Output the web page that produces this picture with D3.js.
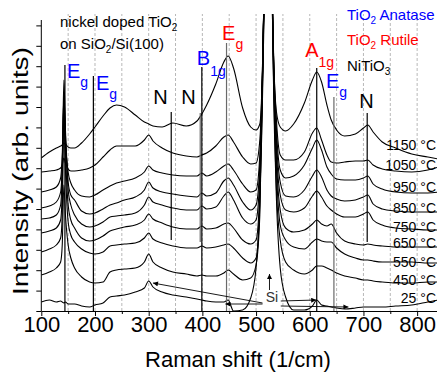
<!DOCTYPE html>
<html>
<head>
<meta charset="utf-8">
<script src="https://cdn.jsdelivr.net/npm/d3@7"></script>
<style>
body { margin: 0; background: #fff; }
svg { display: block; font-family: Arial, "Liberation Sans", sans-serif; }
</style>
</head>
<body>
<svg id="chart" width="437" height="373"></svg>
<script>
/*
 * Data: Raman shift grid (1/cm) and offset intensities (arb. units)
 */
var shift = [100, 115, 128, 136, 139, 142, 145, 150, 155, 162,
             175, 190, 200, 215, 228, 240, 255, 275, 292, 300,
             308, 325, 345, 370, 390, 399, 408, 425, 440, 448,
             458, 475, 490, 500, 507, 513, 518, 522, 527, 532,
             538, 545, 555, 570, 590, 605, 613, 622, 632, 640,
             650, 665, 685, 700, 708, 718, 735, 760, 790, 820, 840];

var s1150 = [153, 159, 163, 165, 166, 168, 167, 164, 163, 163,
             168, 177, 184, 195, 203, 206, 204, 196, 189, 187,
             185, 184, 188, 185, 190, 197, 206, 227, 249, 255,
             243, 203, 184, 181, 187, 271, 461, 1011, 461, 271,
             199, 184, 180, 187, 208, 231, 239, 229, 206, 191,
             181, 175, 177, 183, 186, 179, 169, 163, 157, 154, 152];

var s1050 = [139, 140, 141, 143, 146, 153, 148, 142, 140, 140,
             141, 143, 146, 154, 161, 165, 165, 165, 171, 176,
             170, 163, 158, 155, 154, 156, 158, 165, 174, 176,
             169, 154, 147, 148, 171, 269, 461, 1011, 461, 269,
             191, 156, 151, 151, 159, 178, 183, 171, 156, 149,
             148, 149, 150, 150, 151, 146, 142, 140, 139, 141, 144];

var s950 = [119, 121, 124, 133, 156, 206, 171, 139, 128, 121,
            115, 114, 116, 121, 125, 128, 130, 133, 139, 145,
            141, 138, 136, 135, 135, 138, 135, 139, 145, 147,
            141, 127, 119, 121, 156, 266, 461, 1011, 461, 266,
            181, 141, 133, 135, 146, 163, 171, 161, 144, 137,
            132, 131, 131, 133, 135, 127, 122, 119, 118, 118, 119];

var s850 = [103, 105, 109, 119, 146, 216, 176, 129, 116, 111,
            100, 97, 98, 102, 106, 108, 111, 114, 121, 129,
            123, 119, 117, 115, 114, 118, 115, 118, 130, 133,
            126, 109, 101, 106, 146, 266, 461, 1011, 461, 266,
            171, 129, 115, 114, 121, 135, 141, 134, 121, 115,
            112, 110, 111, 114, 116, 107, 102, 100, 99, 99, 99];

var s750 = [92, 93, 96, 106, 141, 231, 181, 121, 106, 96,
            87, 84, 85, 89, 94, 95, 96, 98, 106, 114,
            109, 106, 103, 101, 101, 105, 102, 104, 115, 119,
            111, 93, 87, 91, 136, 263, 461, 1011, 461, 263,
            161, 116, 101, 99, 103, 115, 120, 114, 105, 101,
            97, 94, 94, 97, 99, 91, 86, 83, 82, 81, 81];

var s650 = [78, 80, 83, 91, 121, 219, 161, 106, 91, 83,
            73, 70, 71, 75, 80, 82, 84, 86, 91, 97,
            92, 88, 84, 82, 82, 85, 82, 83, 87, 88,
            83, 71, 67, 71, 121, 261, 461, 1011, 461, 261,
            151, 101, 83, 79, 81, 87, 91, 87, 85, 87,
            78, 70, 67, 66, 67, 66, 65, 64, 64, 64, 64];

var s550 = [59, 62, 66, 73, 96, 196, 141, 89, 76, 69,
            62, 58, 57, 59, 65, 66, 67, 68, 73, 78,
            72, 68, 65, 63, 63, 65, 63, 64, 66, 67,
            63, 53, 48, 53, 106, 256, 461, 1011, 461, 256,
            141, 86, 71, 64, 62, 69, 72, 70, 69, 69,
            63, 57, 53, 51, 51, 50, 49, 49, 49, 48, 48];

var s450 = [36, 39, 43, 49, 66, 126, 96, 66, 53, 43,
            34, 29, 28, 29, 39, 41, 42, 43, 49, 57,
            49, 43, 39, 37, 35, 36, 35, 35, 38, 41,
            37, 31, 33, 46, 96, 251, 461, 1011, 461, 251,
            121, 71, 49, 41, 37, 41, 45, 45, 43, 41,
            38, 35, 33, 31, 31, 30, 29, 28, 28, 29, 29];

var s25 = [9, 11, 9, 10, 9, 8, 9, 7, 7, 7,
           5, 4, 6, 8, 14, 15, 16, 19, 23, 30,
           24, 19, 16, 14, 12, 11, 10, 9, 9, 11,
           0, 1, 13, 43, 111, 241, 461, 1011, 461, 241,
           111, 43, 14, 1, 1, 5, 11, 6, 5, 4,
           3, 2, 3, 4, 4, 4, 4, 5, 6, 9, 11];

var temps = ['1150 \u00b0C', '1050 \u00b0C', '950 \u00b0C', '850 \u00b0C', '750 \u00b0C',
             '650 \u00b0C', '550 \u00b0C', '450 \u00b0C', '25 \u00b0C'];
var tempLevel = [161, 141, 119, 98, 79, 63, 44, 26, 8];

/*
 * Peak assignments (vertical markers)
 */
var peakShift  = [144, 197, 342, 396, 399, 445, 613, 645, 707];
var peakName   = [['E', 'g'], ['E', 'g'], ['N'], ['N'], ['B', '1g'], ['E', 'g'], ['A', '1g'], ['E', 'g'], ['N']];
var peakPhase  = ['anatase', 'anatase', 'nitio3', 'nitio3', 'anatase', 'rutile', 'rutile', 'anatase', 'nitio3'];
var peakTop    = [246, 235, 199, 198, 244, 268, 243, 214, 198];
var peakBottom = [0, 0, 71, 69, 0, 0, 0, 0, 69];

/*
 * Si annotation arrows: [shift, intensity] pairs
 */
var siFrom = [[512, 8], [512, 7], [546, 10], [546, 5], [525, 21]];
var siTo   = [[308, 28], [443, 7], [612, 11], [672, 4], [525, 37]];

var xTicks = [100, 200, 300, 400, 500, 600, 700, 800];

/*
 * Style
 */
var BLUE = '#0000ff', RED = '#ff0000', GRAY = '#6a6a6a';
var PHASE_COLOR = { anatase: BLUE, rutile: RED, nitio3: '#000' };
var LINE_COLOR = ['#000', '#000', '#000', GRAY, '#000', GRAY, '#000', GRAY, '#000'];
// text offset from the top of each marker line: [dx, dy, sub dy]
var LABEL_POS = [[2, 13, 9], [2.6, 14, 9], [-18, -8, 0], [-19, -9, 0], [-5, -2, 11],
                 [-4.5, -3, 9], [-11.6, -11, 10], [-8, -9, 9], [-8, -5, 0]];

var svg = d3.select('#chart');
var W = 437;

var x = d3.scaleLinear().domain([100, 837]).range([41.3, 437]);
var y = d3.scaleLinear().domain([0, 297]).range([311, 14]);

var defs = svg.append('defs');
defs.append('clipPath').attr('id', 'plot-clip')
    .append('rect')
    .attr('x', x(100)).attr('y', y(297))
    .attr('width', W - x(100)).attr('height', y(-5) - y(297));

defs.append('marker')
    .attr('id', 'arrow')
    .attr('viewBox', '0 0 10 10')
    .attr('refX', 10).attr('refY', 5)
    .attr('markerWidth', 7).attr('markerHeight', 5)
    .attr('markerUnits', 'userSpaceOnUse')
    .attr('orient', 'auto')
    .append('path').attr('d', 'M0,0L10,5L0,10Z').attr('fill', '#000');

function richText(g, px, py, parts, size, subSize, subDy, color) {
    var t = g.append('text')
        .attr('x', px).attr('y', py)
        .attr('font-size', size)
        .attr('fill', color);
    parts.forEach(function (p, i) {
        var s = t.append('tspan').text(p);
        if (i % 2 === 1) s.attr('font-size', subSize).attr('dy', subDy);
        else if (i > 0) s.attr('dy', -subDy);
    });
    return t;
}

/*
 * Dashed grid
 */
svg.append('g').selectAll('line')
    .data(d3.range(150, 837, 50))
    .join('line')
    .attr('x1', function (d) { return x(d); })
    .attr('x2', function (d) { return x(d); })
    .attr('y1', y(0)).attr('y2', y(297))
    .attr('stroke', '#b8b8b8')
    .attr('stroke-dasharray', '3,2');

/*
 * Spectra
 */
var series = [s1150, s1050, s950, s850, s750, s650, s550, s450, s25];
var line = d3.line()
    .x(function (d, i) { return x(shift[i]); })
    .y(function (d) { return y(d); })
    .curve(d3.curveMonotoneX);

svg.append('g').attr('clip-path', 'url(#plot-clip)')
    .selectAll('path')
    .data(series)
    .join('path')
    .attr('d', line)
    .attr('fill', 'none')
    .attr('stroke', '#000')
    .attr('stroke-width', 1.1);

/*
 * Peak markers
 */
var gPeaks = svg.append('g');
peakShift.forEach(function (s, i) {
    gPeaks.append('line')
        .attr('x1', x(s)).attr('x2', x(s))
        .attr('y1', y(peakTop[i])).attr('y2', y(peakBottom[i]))
        .attr('stroke', LINE_COLOR[i])
        .attr('stroke-width', 1.2);
    var lp = LABEL_POS[i];
    richText(gPeaks, x(s) + lp[0], y(peakTop[i]) + lp[1], peakName[i], 20, 14, lp[2], PHASE_COLOR[peakPhase[i]]);
});

/*
 * Si arrows
 */
var gSi = svg.append('g');
siFrom.forEach(function (f, i) {
    gSi.append('line')
        .attr('x1', x(f[0])).attr('y1', y(f[1]))
        .attr('x2', x(siTo[i][0])).attr('y2', y(siTo[i][1]))
        .attr('stroke', '#000').attr('stroke-width', 0.9)
        .attr('marker-end', 'url(#arrow)');
});
gSi.append('text')
    .attr('x', x(518)).attr('y', y(9))
    .attr('font-size', 14).attr('fill', '#333')
    .text('Si');

/*
 * Temperature labels
 */
svg.append('g').selectAll('text')
    .data(temps)
    .join('text')
    .attr('x', 436)
    .attr('y', function (d, i) { return y(tempLevel[i]); })
    .attr('text-anchor', 'end')
    .attr('font-size', 14)
    .attr('fill', '#000')
    .text(function (d) { return d; });

/*
 * Axes
 */
var gx = svg.append('g')
    .attr('transform', 'translate(0,' + y(0) + ')')
    .call(d3.axisBottom(x).tickValues(xTicks).tickSize(5).tickSizeOuter(0).tickPadding(0));
gx.attr('font-size', 22).attr('font-family', null);
gx.selectAll('text').attr('fill', '#000');

var gxMinor = svg.append('g')
    .attr('transform', 'translate(0,' + y(0) + ')')
    .call(d3.axisBottom(x).tickValues(d3.range(150, 837, 100)).tickSize(3).tickFormat(''));
gxMinor.select('.domain').remove();

var gy = svg.append('g')
    .attr('transform', 'translate(' + x(100) + ',0)')
    .call(d3.axisLeft(y).tickValues(d3.range(0, 290, 20.4)).tickSize(5).tickFormat(''));
gy.select('.domain').remove();
gy.append('line')
    .attr('x1', 0).attr('x2', 0)
    .attr('y1', y(0)).attr('y2', y(291))
    .attr('stroke', '#000');

svg.selectAll('.tick line').attr('stroke', '#000');
svg.selectAll('.domain').attr('stroke', '#000');

/*
 * Titles
 */
svg.append('text')
    .attr('x', 238).attr('y', 367)
    .attr('text-anchor', 'middle')
    .attr('font-size', 22)
    .text('Raman shift (1/cm)');

svg.append('text')
    .attr('transform', 'translate(28,171) rotate(-90)')
    .attr('text-anchor', 'middle')
    .attr('font-size', 22)
    .attr('textLength', 248)
    .attr('lengthAdjust', 'spacingAndGlyphs')
    .text('Intensity (arb. units)');

var gNote = svg.append('g');
richText(gNote, 60, 27, ['nickel doped TiO', '2'], 15, 10, 4, '#000');
richText(gNote, 60, 49, ['on SiO', '2', '/Si(100)'], 15, 10, 4, '#000');
richText(gNote, 347, 20, ['TiO', '2', ' Anatase'], 15, 10, 4, BLUE);
richText(gNote, 347, 45, ['TiO', '2', ' Rutile'], 15, 10, 4, RED);
richText(gNote, 347, 71, ['NiTiO', '3'], 15, 10, 4, '#000');
</script>
</body>
</html>
